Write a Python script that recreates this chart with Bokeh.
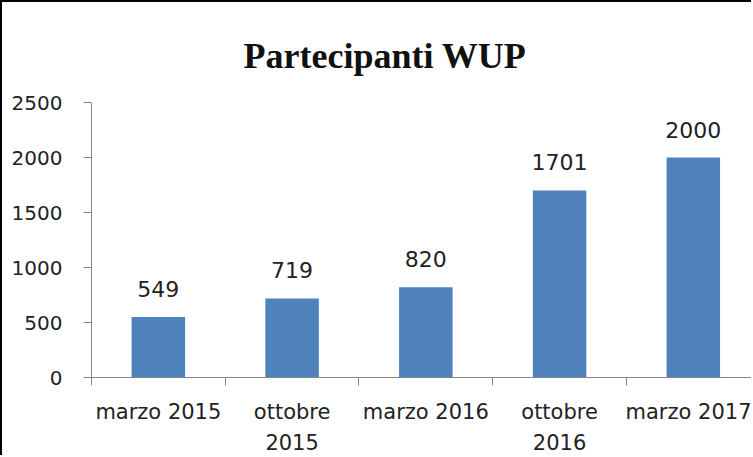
from bokeh.plotting import figure
from bokeh.models import ColumnDataSource, FixedTicker, Range1d, LabelSet, Title
from bokeh.core.properties import value
from bokeh.embed import file_html
from bokeh.resources import INLINE

categories = ["marzo 2015", "ottobre\n2015", "marzo 2016", "ottobre\n2016", "marzo 2017"]
values = [549, 719, 820, 1701, 2000]
y_ticks = [0, 500, 1000, 1500, 2000, 2500]
title_text = "Partecipanti WUP"

centers = [i + 0.5 for i in range(len(categories))]
bounds = list(range(len(categories) + 1))

src = ColumnDataSource(dict(x=centers, top=values, lab=[str(v) for v in values]))

p = figure(width=751, height=455, output_backend="svg", toolbar_location=None,
           x_range=Range1d(0, 4.95), y_range=Range1d(0, 2500),
           min_border_left=89, min_border_top=100, min_border_bottom=80,
           min_border_right=0,
           styles={"border-left": "2px solid #000", "border-top": "2px solid #000"})
p.title = Title(text=title_text, align="left", offset=152,
                text_font="Liberation Serif", text_font_style="bold",
                text_font_size="36px", text_color="#111111", standoff=54)
p.outline_line_color = None
p.xgrid.visible = False
p.ygrid.visible = False
p.background_fill_color = "white"
p.border_fill_color = "white"

p.vbar(x="x", top="top", width=0.4, source=src, fill_color="#4F81BD", line_color=None)

labels = LabelSet(x="x", y="top", text="lab", source=src, text_align="center",
                  text_baseline="alphabetic", y_offset=20,
                  text_font=value("DejaVu Sans"), text_font_size=value("22px"),
                  text_color="#222222")
p.add_layout(labels)

xa = p.xaxis[0]
xa.ticker = FixedTicker(ticks=centers, minor_ticks=bounds)
xa.major_label_overrides = {c: lab for c, lab in zip(centers, categories)}
xa.major_tick_out = 0
xa.major_tick_in = 0
xa.minor_tick_out = 8
xa.minor_tick_in = 0
xa.minor_tick_line_color = "#868686"
xa.axis_line_color = "#868686"
xa.major_label_standoff = 14
xa.major_label_text_font = "DejaVu Sans"
xa.major_label_text_font_size = "21px"
xa.major_label_text_color = "#222222"
xa.major_label_text_line_height = 1.3

ya = p.yaxis[0]
ya.ticker = FixedTicker(ticks=y_ticks)
ya.major_tick_out = 8
ya.major_tick_in = 0
ya.minor_tick_out = 0
ya.minor_tick_in = 0
ya.major_tick_line_color = "#868686"
ya.axis_line_color = "#868686"
ya.major_label_standoff = 21
ya.major_label_text_font = "DejaVu Sans"
ya.major_label_text_font_size = "20px"
ya.major_label_text_color = "#222222"

open("out.html", "w").write(file_html(p, INLINE))
